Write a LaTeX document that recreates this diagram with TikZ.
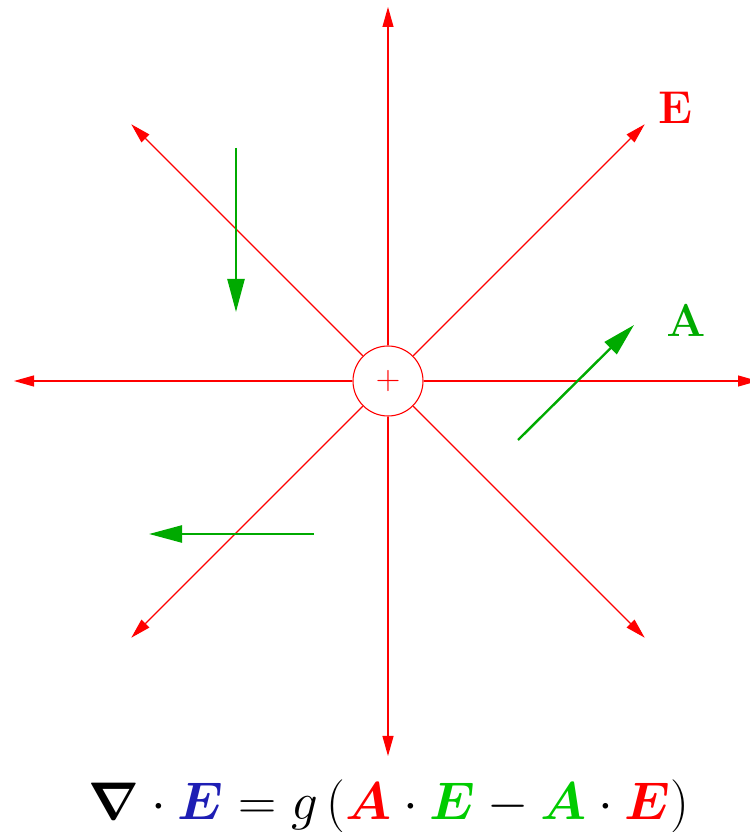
\documentclass[tikz,border=0pt]{standalone}
\usepackage{fix-cm}
\usepackage{amsmath, amssymb, bm}
\usepackage{tikz}
\usetikzlibrary{arrows.meta, calc}

\definecolor{probegreen}{RGB}{0,170,0}
\definecolor{lawgreen}{RGB}{0,204,0}
\definecolor{lawblue}{RGB}{30,30,180}

\begin{document}
\begin{tikzpicture}[x=0.5pt, y=0.5pt,
  field/.style={red, line width=0.55pt, -{Triangle[length=10pt, width=5.5pt]}},
  probe/.style={probegreen, line width=1.2pt, -{Triangle[length=16.5pt, width=8.5pt]}},
  every node/.style={font=\fontsize{23}{28}\selectfont}]
  \useasboundingbox (0,0) rectangle (750,832);
  % point charge
  \node[circle, draw=red, line width=0.55pt, minimum size=35pt, inner sep=0, text=red,
        font=\fontsize{17}{17}\selectfont] (q) at (388,451) {$+$};
  % field lines
  \foreach \a/\r in {0/370, 90/374, 180/374, 270/375, 45/363, 135/363, 225/363, 315/363} {
    \coordinate (tip\a) at ($(q.center)+(\a:\r)$);
    \draw[field] (q.\a) -- (tip\a);
  }
  % test vectors
  \coordinate (a1s) at (236,684);
  \coordinate (a1e) at (236,520);
  \coordinate (a2s) at (518,392);
  \coordinate (a2e) at (634,507);
  \coordinate (a3s) at (314,298);
  \coordinate (a3e) at (149,298);
  \draw[probe] (a1s) -- (a1e);
  \draw[probe] (a2s) -- (a2e);
  \draw[probe] (a3s) -- (a3e);
  % labels
  \node[red] (labelE) at (675,724) {$\mathbf{E}$};
  \node[probegreen] (labelA) at (686,511) {$\mathbf{A}$};
  \node[anchor=base, font=\fontsize{26.5}{30}\selectfont] (law) at (389,12)
    {$\bm{\nabla}\cdot{\color{lawblue}\bm{E}} = g\,({\color{red}\bm{A}}\cdot{\color{lawgreen}\bm{E}} - {\color{lawgreen}\bm{A}}\cdot{\color{red}\bm{E}})$};
\end{tikzpicture}
\end{document}
